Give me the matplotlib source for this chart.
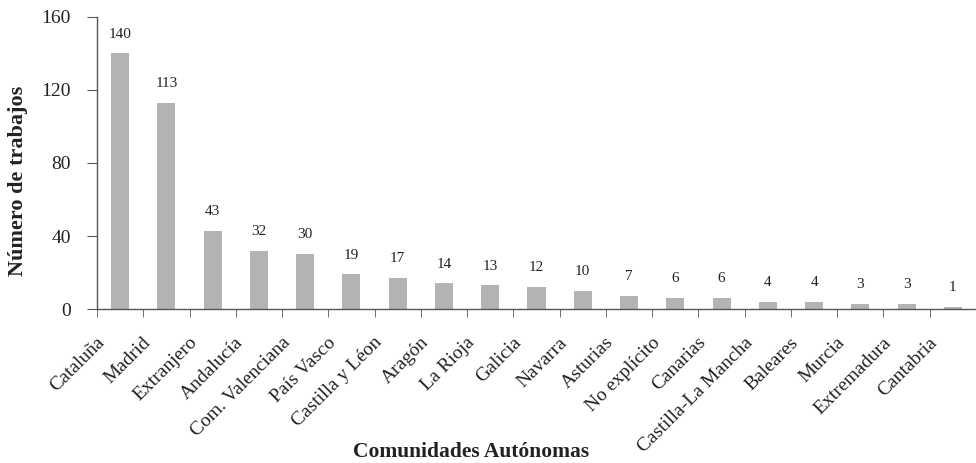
import matplotlib
matplotlib.use("Agg")
import matplotlib.pyplot as plt
import matplotlib.transforms as mtransforms
import numpy as np

categories = ["Cataluña", "Madrid", "Extranjero", "Andalucía", "Com. Valenciana",
              "País Vasco", "Castilla y Léon", "Aragón", "La Rioja", "Galicia",
              "Navarra", "Asturias", "No explícito", "Canarias", "Castilla-La Mancha",
              "Baleares", "Murcia", "Extremadura", "Cantabria"]
values = [140, 113, 43, 32, 30, 19, 17, 14, 13, 12, 10, 7, 6, 6, 4, 4, 3, 3, 1]
yticks = [0, 40, 80, 120, 160]

plt.rcParams['font.family'] = ['Liberation Serif', 'DejaVu Serif']
axc = '#555555'
txc = '#222222'

fig = plt.figure(figsize=(9.76, 4.63), dpi=100)
ax = fig.add_axes([0.0994, 0.3326, 0.9006, 0.6307])
x = np.arange(len(categories))
ax.bar(x, values, width=0.39, color='#b3b3b3')
for xi, v in zip(x, values):
    ax.text(xi, v + 7, str(v), ha='center', va='bottom', fontsize=11, color=txc)

ax.set_xlim(-0.5, len(categories) - 0.5)
ax.set_ylim(0, 160)
ax.set_yticks(yticks)
ax.set_yticklabels([str(t) for t in yticks], fontsize=14, color=txc)
ax.set_xticks(x)
ax.set_xticklabels([])
ax.tick_params(axis='x', length=0)
trans = ax.get_xaxis_transform() + mtransforms.ScaledTranslation(-24 / 100, -25 / 100, fig.dpi_scale_trans)
for xi, lab in zip(x, categories):
    ax.text(xi, 0, lab, transform=trans, rotation=45, ha='right', va='top',
            rotation_mode='anchor', fontsize=14, color=txc)
ax.set_xticks(np.arange(len(categories) + 1) - 0.5, minor=True)
ax.tick_params(axis='x', which='minor', length=6, direction='out', color=axc)
ax.tick_params(axis='y', length=7, direction='out', color=axc, pad=12)

for s in ['top', 'right']:
    ax.spines[s].set_visible(False)
for s in ['left', 'bottom']:
    ax.spines[s].set_color(axc)
    ax.spines[s].set_linewidth(1.0)

ax.set_ylabel("Número de trabajos", fontsize=16, fontweight='bold', color=txc)
ax.yaxis.set_label_coords(-0.078, 0.44)
fig.text(0.483, 0.024, "Comunidades Autónomas", ha='center', va='center', fontsize=15.5,
         fontweight='bold', color=txc)

fig.savefig("out.png", dpi=100)
